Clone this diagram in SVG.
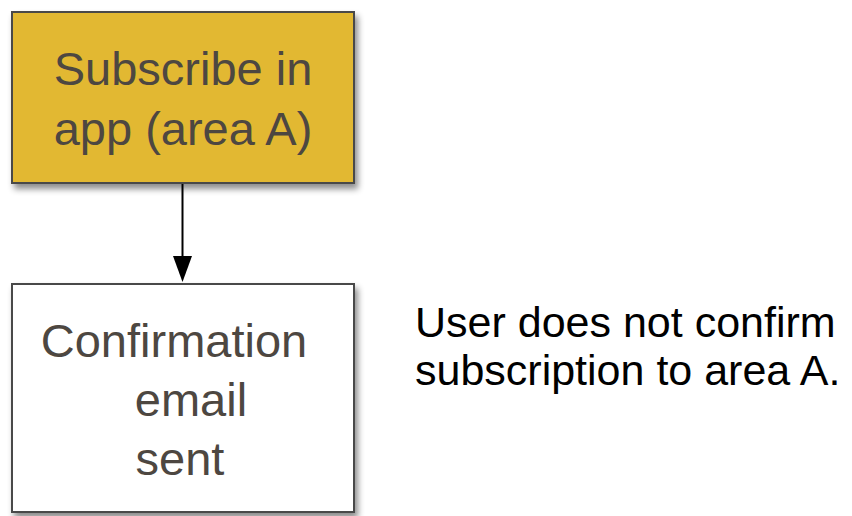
<svg xmlns="http://www.w3.org/2000/svg" width="852" height="516" viewBox="0 0 852 516">
  <defs>
    <filter id="shadow" x="-10%" y="-10%" width="125%" height="130%">
      <feDropShadow dx="3" dy="5" stdDeviation="3" flood-color="#000" flood-opacity="0.45"/>
    </filter>
    <style>
      .box { stroke: #4a4a4a; stroke-width: 2; filter: url(#shadow); }
      .label { font-family: "Liberation Sans", Arial, Helvetica, sans-serif; font-size: 47px; fill: #4d4741; }
      .note { font-family: "Liberation Sans", Arial, Helvetica, sans-serif; font-size: 43px; fill: #000; }
    </style>
  </defs>
  <rect width="852" height="516" fill="#fff"/>
  <g id="connectors">
    <line x1="182.5" y1="183" x2="182.5" y2="258" stroke="#000" stroke-width="2"/>
    <polygon points="173,256 192,256 182.5,282" fill="#000"/>
  </g>
  <g id="node-subscribe">
    <rect class="box" x="12" y="12" width="342" height="171" fill="#e2b830"/>
    <text class="label" x="183" y="85" text-anchor="middle">Subscribe in</text>
    <text class="label" x="183" y="145" text-anchor="middle">app (area A)</text>
  </g>
  <g id="node-confirmation">
    <rect class="box" x="12" y="284" width="342" height="228" fill="#fff"/>
    <text class="label" x="174" y="357" text-anchor="middle">Confirmation</text>
    <text class="label" x="191" y="416" text-anchor="middle">email</text>
    <text class="label" x="180" y="475" text-anchor="middle">sent</text>
  </g>
  <g id="note">
    <text class="note" x="415" y="337">User does not confirm</text>
    <text class="note" x="415" y="385">subscription to area A.</text>
  </g>
</svg>
